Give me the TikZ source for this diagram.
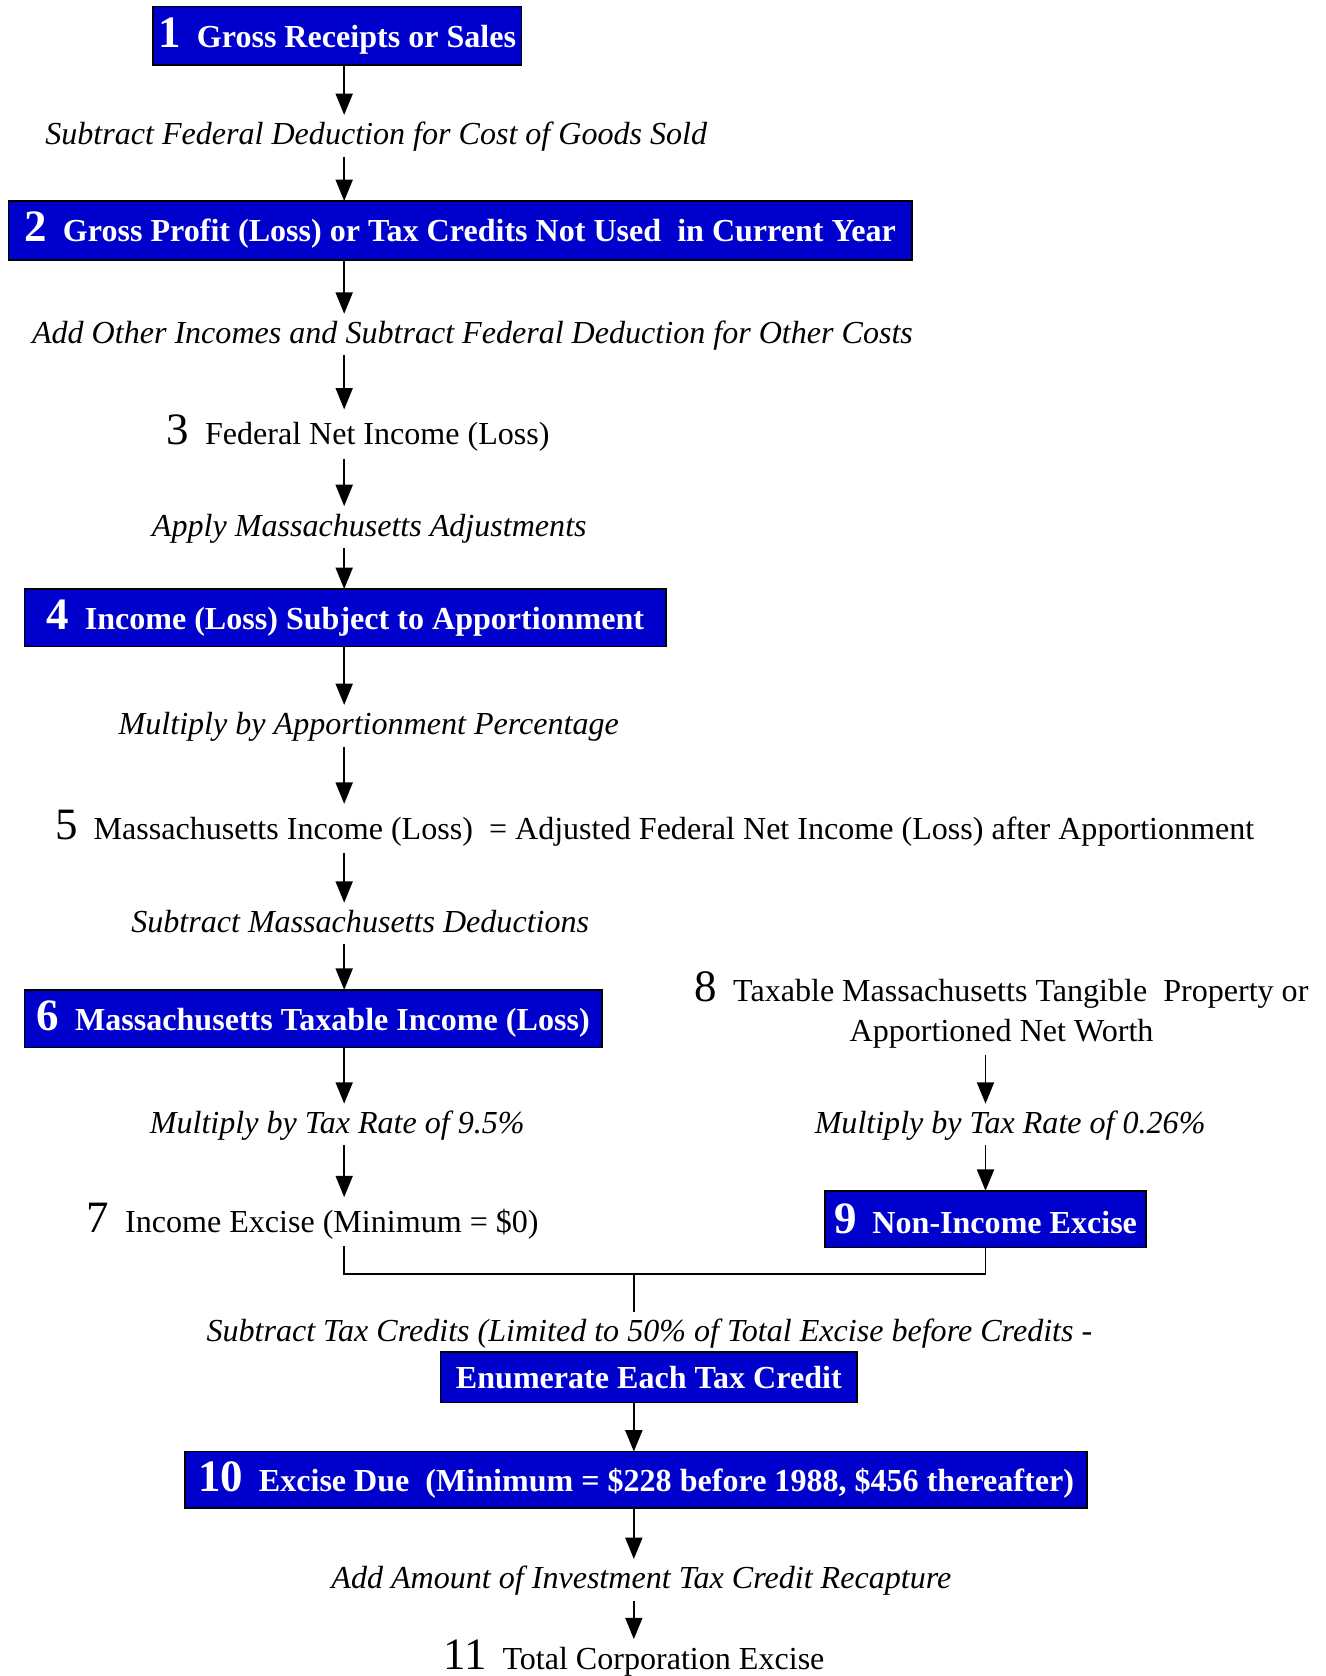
\documentclass[tikz,border=0pt]{standalone}
\usepackage{fontspec}
\setmainfont{Liberation Serif}
\usetikzlibrary{arrows.meta}
\definecolor{taxblue}{RGB}{0,0,204}
\newcommand{\bignum}[1]{{\fontsize{21}{21}\selectfont #1}\hspace{0.5em}}

\begin{document}
\begin{tikzpicture}[x=0.5pt,y=-0.5pt,
  plain/.style={font=\fontsize{15}{17}\selectfont, text height=14pt, text depth=4pt, inner ysep=2.5pt, inner xsep=0pt, outer sep=0pt, yshift=-1.5pt},
  stepnote/.style={plain, font=\fontsize{15}{17}\selectfont\itshape, text height=11.5pt, text depth=3pt},
  box/.style={draw=black, line width=0.75pt, fill=taxblue, text=white, inner sep=0pt, outer sep=0pt,
    font=\fontsize{15}{17}\selectfont\bfseries},
  flow/.style={line width=0.75pt, -{Triangle[length=10pt,width=8pt]}},
  link/.style={line width=0.75pt}]
\useasboundingbox (0,0) rectangle (1240,1568);
\clip (0,0) rectangle (1240,1568);

% main column
\coordinate (ax) at (322,0);
\node[box, minimum width=172.5pt, minimum height=27.5pt] (box1) at (315.5,33.5) {\bignum{1}Gross Receipts or Sales};
\node[stepnote] (lab1) at (352,124) {Subtract Federal Deduction for Cost of Goods Sold};
\node[box, minimum width=422.5pt, minimum height=27.5pt] (box2) at (430.5,215.5) {\bignum{2}Gross Profit (Loss) or Tax Credits Not Used\ \ in Current Year};
\node[stepnote] (lab2) at (442,310) {Add Other Incomes and Subtract Federal Deduction for Other Costs};
\node[plain] (t3) at (335,403) {\bignum{3}Federal Net Income (Loss)};
\node[stepnote] (lab3) at (345.5,490) {Apply Massachusetts Adjustments};
\node[box, minimum width=300pt, minimum height=27pt] (box4) at (323,578) {\bignum{4}Income (Loss) Subject to Apportionment};
\node[stepnote] (lab4) at (345,676) {Multiply by Apportionment Percentage};
\node[plain] (t5) at (612.5,772) {\bignum{5}Massachusetts Income (Loss)\ \ = Adjusted Federal Net Income (Loss) after Apportionment};
\node[stepnote] (lab5) at (337,861) {Subtract Massachusetts Deductions};
\node[box, minimum width=270pt, minimum height=27pt] (box6) at (293,953) {\bignum{6}Massachusetts Taxable Income (Loss)};
\node[stepnote] (lab6) at (315.5,1049) {Multiply by Tax Rate of 9.5\%};
\node[plain] (t7) at (292.5,1140) {\bignum{7}Income Excise (Minimum = \$0)};

\foreach \a/\b in {box1/lab1, lab1/box2, box2/lab2, lab2/t3, t3/lab3, lab3/box4,
                   box4/lab4, lab4/t5, t5/lab5, lab5/box6, box6/lab6, lab6/t7}
  \draw[flow] (\a.south -| ax) -- (\b.north -| ax);

% non-income side
\node[font=\fontsize{15}{19}\selectfont, align=center, inner sep=2.5pt] (t8) at (937,945)
  {\bignum{8}Taxable Massachusetts Tangible\ \ Property or\\ Apportioned Net Worth};
\node[stepnote] (lab8) at (945,1049) {Multiply by Tax Rate of 0.26\%};
\node[box, minimum width=150pt, minimum height=26.5pt] (box9) at (922,1140.5) {\bignum{9}Non-Income Excise};
\draw[flow] (t8.south -| box9) -- (lab8.north -| box9);
\draw[flow] (lab8.south -| box9) -- (box9.north);

% credits and total
\coordinate (join) at (593,1192);
\node[stepnote] (labc) at (607.5,1244) {Subtract Tax Credits (Limited to 50\% of Total Excise before Credits -};
\node[box, minimum width=195pt, minimum height=23.5pt] (enum) at (607,1288.5) {Enumerate Each Tax Credit};
\node[box, minimum width=422pt, minimum height=26.5pt] (box10) at (595,1384.5) {\bignum{10}Excise Due\ \ (Minimum = \$228 before 1988, \$456 thereafter)};
\node[stepnote] (lab10) at (600,1475) {Add Amount of Investment Tax Credit Recapture};
\node[plain, text height=11.5pt] (t11) at (593,1551) {\bignum{11}Total Corporation Excise};

\draw[link] (t7.south -| ax) |- (join) -| (box9.south);
\draw[link] (join) -- (labc.north -| join);
\draw[flow] (enum.south -| join) -- (box10.north -| join);
\draw[flow] (box10.south -| join) -- (lab10.north -| join);
\draw[flow] (lab10.south -| join) -- (t11.north -| join);
\end{tikzpicture}
\end{document}
